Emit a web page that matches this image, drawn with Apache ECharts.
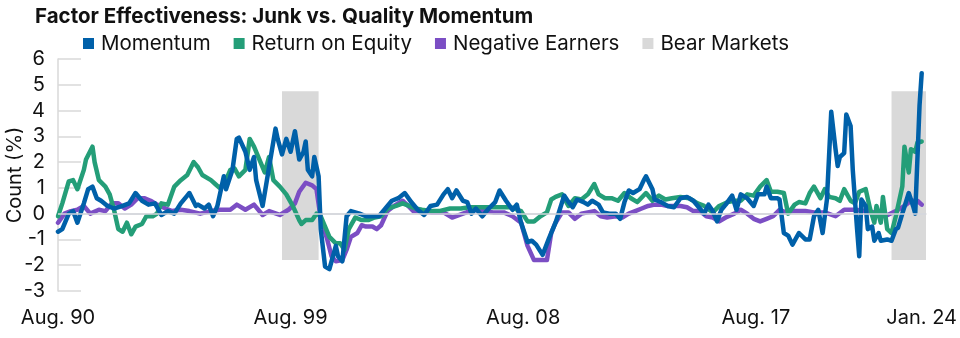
<!DOCTYPE html>
<html><head><meta charset="utf-8">
<script src="https://cdn.jsdelivr.net/npm/echarts@6/dist/echarts.min.js"></script>
<style>html,body{margin:0;padding:0;background:#fff}#c{width:960px;height:338px}</style>
</head><body><div id="c"></div>
<script>
const titleText = 'Factor Effectiveness: Junk vs. Quality Momentum';
const seriesNames = ['Momentum', 'Return on Equity', 'Negative Earners', 'Bear Markets'];
const xTickMonths = [0, 108, 216, 324, 401];
const xTickLabels = ['Aug. 90', 'Aug. 99', 'Aug. 08', 'Aug. 17', 'Jan. 24'];

const momentumMonths = [0,2,5,7,9,12,14,16,18,20,23,26,30,33,36,39,42,45,48,51,54,57,60,61,64,65,68,70,72,74,77,78,81,83,84,87,89,91,92,95,97,101,102,104,106,108,110,112,114,115,116,118,119,121,122,124,126,129,130,132,134,136,140,143,146,149,152,155,158,161,164,167,170,173,176,179,181,183,185,188,190,192,194,197,200,203,205,208,211,213,215,218,220,222,225,228,231,232,235,237,239,241,244,246,248,251,253,256,259,261,263,265,267,270,272,273,276,277,280,283,286,289,292,295,298,300,302,304,306,308,310,313,315,317,320,323,325,328,329,331,334,335,337,339,341,344,347,349,351,353,355,357,359,361,362,363,365,366,368,369,371,372,373,375,376,378,379,381,382,385,387,389,390,392,395,397,398,399,400,401];
const momentumValues = [-0.7,-0.6,0,0.1,-0.35,0.4,0.95,1.05,0.6,0.5,0.3,0.2,0.3,0.4,0.8,0.5,0.35,0.4,-0.05,0.1,0,0.4,0.7,0.8,0.3,0.35,0.2,0.35,-0.1,0.3,1.45,0.95,1.7,2.9,2.95,2.4,1.7,2.2,1.3,0.3,1.3,3.3,2.9,2.3,2.9,2.4,3.2,2.1,2.4,2.8,1.7,1.45,2.2,1.45,-0.6,-2.05,-2.15,-1.25,-1.65,-1.85,-0.1,0.1,0,-0.1,-0.1,-0.1,0.2,0.5,0.6,0.8,0.45,0.15,-0.05,0.3,0.35,0.75,0.95,0.6,0.9,0.5,0.45,0,0.2,-0.1,0.2,0.45,0.9,0.5,0.15,0.35,-0.35,-1.1,-1.05,-1.2,-1.6,-0.95,-0.35,-0.1,0.7,0.45,0.25,0.55,0.45,0.35,0.5,0.35,0.05,0,0,-0.2,0.45,0.9,0.8,0.95,1.3,1.45,0.95,0.55,0.45,0.3,0.25,0.6,0.65,0.5,0.2,0,0.35,0.1,-0.3,0.15,0.35,0.7,0.15,0.75,0.6,0.3,0.75,0.75,1.05,0.6,0.6,0.55,-0.75,-0.85,-1.2,-0.75,-1.0,-1.0,-0.1,0.15,-0.75,0.55,3.95,2.5,1.85,2.2,2.35,3.85,3.4,1.7,-0.6,-1.65,0.55,0.3,-0.6,-0.5,-1.05,-0.75,-1.05,-1.0,-1.05,-0.6,-0.55,0,0.8,0.3,0,2.1,4.2,5.45];

const roeMonths = [0,2,5,7,9,12,13,16,17,19,22,24,26,28,30,32,34,36,39,41,44,46,48,51,54,57,60,63,65,67,71,73,75,78,80,82,84,87,89,91,94,96,98,100,103,106,109,112,113,115,118,120,122,124,126,129,131,133,135,138,141,144,147,150,153,157,160,163,166,169,173,177,182,187,191,196,200,205,210,215,218,221,224,227,229,231,234,237,240,243,246,249,251,254,257,260,263,266,269,273,276,279,282,285,289,293,297,300,304,307,311,314,317,320,323,326,329,331,334,337,339,342,344,347,349,351,354,356,358,361,363,365,368,370,372,375,377,379,380,382,383,385,387,389,392,393,395,396,398,399,401];
const roeValues = [-0.1,0.4,1.25,1.3,0.95,1.7,2.1,2.6,2.0,1.3,1.05,0.75,0.15,-0.6,-0.7,-0.35,-0.8,-0.5,-0.4,-0.1,-0.1,0,0.4,0.35,1.05,1.3,1.5,2.0,1.8,1.5,1.3,1.15,1.0,1.3,1.7,1.75,1.45,1.7,2.9,2.6,2.0,1.6,2.2,1.3,1.05,0.75,0.3,-0.25,-0.4,-0.25,-0.25,0,-0.1,-0.5,-0.9,-1.15,-1.15,-1.4,-0.6,-0.15,-0.25,-0.25,-0.15,-0.1,0.2,0.3,0.4,0.3,0.2,0.15,0.1,0.1,0.2,0.2,0.25,0.25,0.25,0.25,0.25,0.1,-0.3,-0.3,-0.1,0.05,0.55,0.65,0.75,0.3,0.6,0.55,0.75,1.15,0.75,0.6,0.6,0.5,0.8,0.6,0.45,0.8,0.5,0.7,0.55,0.6,0.65,0.6,0.4,0.3,0.05,0.3,0.45,0.5,0.5,0.75,0.7,1.05,1.3,0.85,0.85,0.8,0,0.35,0.45,0.4,0.8,1.05,0.6,0.95,0.65,0.6,0.5,0.95,0.5,0.4,0.85,0.95,0.2,-0.35,0.3,-0.35,0.65,-0.6,-0.75,-0.1,1.05,2.6,1.6,2.5,2.4,2.75,2.8];

const negMonths = [0,3,6,9,12,15,19,22,25,28,31,34,37,40,43,46,50,53,57,61,66,71,75,80,83,87,91,95,98,103,107,110,112,115,118,120,122,125,127,129,132,134,136,139,141,143,146,148,150,153,156,160,162,165,168,173,179,183,188,193,198,202,207,211,215,218,221,224,227,229,231,234,237,240,243,246,249,252,255,259,262,265,268,271,274,277,280,283,289,292,295,298,301,304,307,310,314,317,320,323,326,329,332,335,338,341,347,351,356,361,365,370,375,379,384,389,393,396,399,401];
const negValues = [-0.35,0,0.1,0.15,0.3,0,0.15,0.1,0.4,0.4,0.2,0.35,0.6,0.6,0.5,0.35,0.2,0.1,0.15,0.1,0,0.1,0.15,0.15,0.35,0.15,0.35,-0.05,0.1,-0.05,0.15,0.4,0.85,1.2,1.1,0.95,-0.2,-1.0,-1.65,-1.85,-1.8,-1.4,-0.9,-0.75,-0.45,-0.5,-0.5,-0.6,-0.45,0.1,0.3,0.5,0.35,0.1,0.1,0.05,0.05,-0.15,0,0.15,0.1,0.05,0.05,-0.1,-0.35,-1.25,-1.8,-1.8,-1.8,-0.75,-0.35,0.05,0.05,-0.2,0,0.05,0.1,-0.1,-0.15,-0.1,-0.15,0,0.1,0.2,0.3,0.35,0.35,0.3,0.3,0.25,0.1,0.1,-0.1,-0.15,-0.3,-0.15,0,0.15,0,-0.2,-0.3,-0.2,-0.1,0.15,0.05,0.1,0.1,0.05,0.05,-0.1,0.15,0.15,0.1,0.05,-0.1,0.1,0.3,0.5,0.5,0.35];

const bearStart = [104, 387];
const bearEnd = [121, 403];
const bearLow = -1.8;
const bearHigh = 4.75;

const colors = ['#0060a9', '#249e78', '#7b4ec4', '#d9d9d9'];
const font = 'Inter, Roboto, sans-serif';
const pairs = (m, v) => m.map((x, i) => [x, v[i]]);

const chart = echarts.init(document.getElementById('c'));
const lineSeries = (name, m, v, color, z) => ({
  name, type: 'line', data: pairs(m, v), showSymbol: false, symbol: 'none',
  color, z, lineStyle: { width: 4.5, color, join: 'round', cap: 'round' }, silent: true, animation: false
});
chart.setOption({
  animation: false,
  title: { text: titleText, left: 35, top: 6, padding: 0,
    textStyle: { fontFamily: font, fontSize: 20.5, fontWeight: 'bold', color: '#111' } },
  legend: {
    data: seriesNames, left: 83, top: 33, padding: 0, itemGap: 23, itemWidth: 11, itemHeight: 11,
    icon: 'rect', textStyle: { fontFamily: font, fontSize: 20.5, color: '#111', padding: [0, 0, 0, 2] }
  },
  grid: { left: 58, right: 34, top: 59, bottom: 47, containLabel: false, outerBoundsMode: 'none' },
  xAxis: {
    type: 'value', min: 0, max: 403,
    axisLine: { show: true, lineStyle: { color: '#d9d9d9', width: 1.5 } },
    axisTick: { show: false }, splitLine: { show: false },
    axisLabel: { customValues: xTickMonths, hideOverlap: false, margin: 17,
      fontFamily: font, fontSize: 20, color: '#111',
      formatter: (v) => xTickLabels[xTickMonths.indexOf(v)] || '' }
  },
  yAxis: {
    type: 'value', min: -3, max: 6, interval: 1,
    name: 'Count (%)', nameLocation: 'middle', nameGap: 33, nameMoveOverlap: false,
    nameTextStyle: { fontFamily: font, fontSize: 20, color: '#111' },
    axisLine: { show: true, lineStyle: { color: '#d9d9d9', width: 1.5 } },
    axisTick: { show: true, inside: true, length: 23, lineStyle: { color: '#d9d9d9', width: 1.5 } },
    splitLine: { show: false },
    axisLabel: { margin: 13, fontFamily: font, fontSize: 20, color: '#111' }
  },
  series: [
    { name: 'Bear Markets', type: 'line', data: [], color: colors[3], z: 1, silent: true,
      markArea: { silent: true, itemStyle: { color: colors[3] },
        data: bearStart.map((s, i) => [{ xAxis: s, yAxis: bearLow }, { xAxis: bearEnd[i], yAxis: bearHigh }]) },
      markLine: { silent: true, symbol: 'none', label: { show: false },
        lineStyle: { color: '#d3d6dc', type: 'solid', width: 1.5 }, data: [{ yAxis: 0 }] } },
    lineSeries('Negative Earners', negMonths, negValues, colors[2], 2),
    lineSeries('Return on Equity', roeMonths, roeValues, colors[1], 3),
    lineSeries('Momentum', momentumMonths, momentumValues, colors[0], 4)
  ]
});
</script></body></html>
